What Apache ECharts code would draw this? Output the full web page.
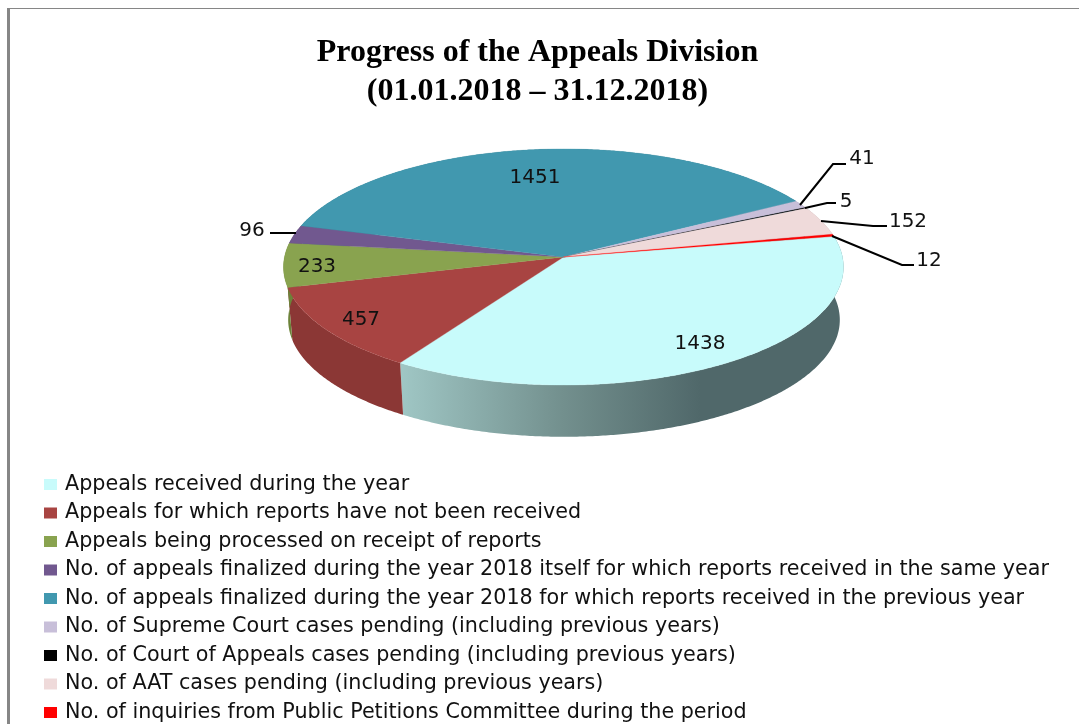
<!DOCTYPE html>
<html><head><meta charset="utf-8">
<style>html,body{margin:0;padding:0;background:#fff}#c{width:1079px;height:724px}</style>
<script src="https://cdn.jsdelivr.net/npm/echarts@6/dist/echarts.min.js"></script>
</head><body><div id="c"></div>
<script>
const titleLines = ['Progress of the Appeals Division', '(01.01.2018 – 31.12.2018)'];
const categories = [
  'Appeals received during the year',
  'Appeals for which reports have not been received',
  'Appeals being processed on receipt of reports',
  'No. of appeals finalized during the year 2018 itself for which reports received in the same year',
  'No. of appeals finalized during the year 2018 for which reports received in the previous year',
  'No. of Supreme Court cases pending (including previous years)',
  'No. of Court of Appeals cases pending (including previous years)',
  'No. of AAT cases pending (including previous years)',
  'No. of inquiries from Public Petitions Committee during the period'
];
const values = [1438, 457, 233, 96, 1451, 41, 5, 152, 12];

// styling
const topColors = ['#C8FBFB','#A84442','#89A34F','#71588F','#4198AF','#C8BFD9','#000000','#EFDADA','#FF0000'];
const wallColors = [null,'#8B3735','#6C8339','#5A4672','#34798C','#A098AD','#000000','#BFAEAE','#CC0000'];
// projection of the tilted disc
const PIE = {cx:563.5, cy:257, a:279, b:117.2, k:-0.0847, startDeg:-10.3, depth:53, shrink:0.985};
// annotation layout: elbow = leader bend, end = leader end, at = label centre
const labelLayout = [
  {at:[700,344]},
  {at:[361,320]},
  {at:[317,267]},
  {end:[270,233], at:[252,231], start:[296,233]},
  {at:[535,178]},
  {elbow:[833,164], end:[846,164], at:[862,159], start:[800,205]},
  {elbow:[827,203], end:[836,203], at:[846,202], start:[805,208]},
  {elbow:[873,226], end:[887,226], at:[908,222], start:[821,221]},
  {elbow:[902,265], end:[914,265], at:[929,261], start:[832,236]}
];

const total = values.reduce((s,v)=>s+v,0);
let acc = PIE.startDeg;
const slices = values.map((v,i)=>{const s=acc; acc+=v/total*360; return [s,acc,v,i];});

function discXY(deg){
  const t=deg*Math.PI/180,u=Math.cos(t),v=Math.sin(t),w=1+PIE.k*v;
  return [PIE.a*u/w, PIE.b*v/w];
}
function topPt(deg){const p=discXY(deg);return [PIE.cx+p[0],PIE.cy+p[1]];}
function botPt(deg){const p=discXY(deg);return [PIE.cx+0.5+p[0]*PIE.shrink,PIE.cy+p[1]*0.99+PIE.depth];}
function arc(s,e,fn){const o=[];const n=Math.max(2,Math.ceil((e-s)/0.5));for(let i=0;i<=n;i++)o.push(fn(s+(e-s)*i/n));return o;}

const wallGrad = new echarts.graphic.LinearGradient(399,0,700,0,[
  {offset:0,color:'#A0C7C5'},{offset:0.55,color:'#728F8D'},{offset:1,color:'#50686A'}],true);

const seriesList = [];
seriesList.push({
  type:'custom', coordinateSystem:'none', silent:true, z:1, name:'walls',
  data:slices,
  renderItem(params,api){
    const s=api.value(0),e=api.value(1),i=api.value(3);
    const pts=arc(s,e,topPt).concat(arc(s,e,botPt).reverse());
    return {type:'polygon',shape:{points:pts},style:{fill:i===0?wallGrad:wallColors[i]}};
  }
});
categories.forEach((name,i)=>{
  seriesList.push({
    type:'custom', coordinateSystem:'none', silent:true, z:2, name,
    itemStyle:{color:topColors[i]},
    data:[slices[i]],
    renderItem(params,api){
      const pts=[[PIE.cx,PIE.cy]].concat(arc(api.value(0),api.value(1),topPt));
      return {type:'polygon',shape:{points:pts},style:{fill:topColors[i],stroke:topColors[i],lineWidth:0.3}};
    }
  });
});
seriesList.push({
  type:'custom', coordinateSystem:'none', silent:true, z:5, name:'labels',
  data:slices,
  renderItem(params,api){
    const i=api.value(3),L=labelLayout[i],ch=[];
    if(L.end){
      const pts=L.elbow?[L.start,L.elbow,L.end]:[L.start,L.end];
      ch.push({type:'polyline',shape:{points:pts},style:{stroke:'#000',lineWidth:2,fill:'none'}});
    }
    ch.push({type:'text',style:{text:String(api.value(2)),x:L.at[0],y:L.at[1],align:'center',verticalAlign:'middle',
      font:'20px "DejaVu Sans"',fill:'#111'}});
    return {type:'group',children:ch};
  }
});

const chart = echarts.init(document.getElementById('c'),null,{renderer:'canvas'});
chart.setOption({
  animation:false,
  color:topColors,
  title:{text:titleLines.join('\n'),left:532.5,top:28,textAlign:'center',
    textStyle:{fontFamily:'"Liberation Serif"',fontWeight:'bold',fontSize:32,lineHeight:39,color:'#000'}},
  legend:{data:categories,orient:'vertical',left:44,top:474,padding:0,itemWidth:13,itemHeight:11,itemGap:7.5,
    icon:'rect',selectedMode:false,align:'left',
    textStyle:{fontFamily:'"DejaVu Sans"',fontSize:20.7,lineHeight:20,color:'#111',padding:[0,0,0,3]}},
  graphic:[
    {type:'rect',shape:{x:7,y:8,width:3,height:716},style:{fill:'#868686'},silent:true},
    {type:'rect',shape:{x:7,y:8,width:1072,height:1},style:{fill:'#868686'},silent:true}
  ],
  series:seriesList
});
</script></body></html>
